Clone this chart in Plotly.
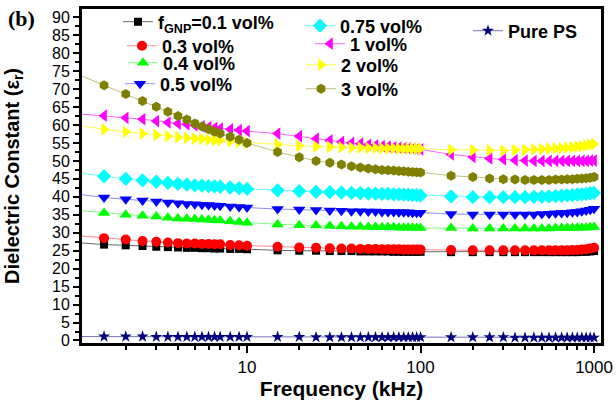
import plotly.graph_objects as go

# Frequencies (kHz)
freq = [1, 1.5, 2, 2.5, 3, 3.5, 4, 4.5, 5, 5.5, 6, 6.5, 7, 8, 9, 10,
        15, 20, 25, 30, 35, 40, 45, 50, 55, 60, 65, 70, 75, 80, 85, 90, 95, 100,
        150, 200, 250, 300, 350, 400, 450, 500, 550, 600, 650, 700, 750, 800, 850, 900, 950, 1000]

eps_01 = [27.3, 26.7, 26.5, 26.3, 26.1, 26.0, 25.9, 25.8, 25.8, 25.7, 25.7, 25.6, 25.6, 25.5, 25.5, 25.4,
          25.1, 25.0, 25.0, 24.9, 24.9, 24.9, 24.8, 24.8, 24.8, 24.8, 24.8, 24.7, 24.7, 24.7, 24.7, 24.7, 24.7, 24.7,
          24.6, 24.6, 24.6, 24.6, 24.6, 24.6, 24.6, 24.6, 24.6, 24.6, 24.6, 24.6, 24.6, 24.6, 24.7, 24.7, 24.8, 24.9]
eps_03 = [29.3, 28.5, 28.1, 27.7, 27.5, 27.3, 27.1, 27.0, 27.0, 26.9, 26.9, 26.8, 26.8, 26.6, 26.5, 26.4,
          26.1, 25.9, 25.8, 25.7, 25.6, 25.6, 25.5, 25.5, 25.5, 25.4, 25.4, 25.4, 25.4, 25.3, 25.3, 25.3, 25.3, 25.3,
          25.2, 25.1, 25.1, 25.1, 25.1, 25.1, 25.1, 25.1, 25.1, 25.1, 25.1, 25.1, 25.2, 25.2, 25.3, 25.4, 25.6, 25.8]
eps_04 = [36.3, 35.5, 35.0, 34.7, 34.5, 34.2, 34.0, 33.9, 33.8, 33.7, 33.6, 33.5, 33.4, 33.2, 33.0, 32.8,
          32.3, 32.1, 32.0, 31.9, 31.8, 31.7, 31.7, 31.6, 31.6, 31.5, 31.5, 31.5, 31.4, 31.4, 31.4, 31.4, 31.3, 31.3,
          31.3, 31.2, 31.2, 31.2, 31.2, 31.2, 31.2, 31.2, 31.2, 31.3, 31.3, 31.3, 31.3, 31.4, 31.4, 31.4, 31.5, 31.6]
eps_05 = [40.9, 39.8, 39.3, 39.0, 38.7, 38.4, 38.2, 38.0, 37.9, 37.8, 37.7, 37.6, 37.5, 37.3, 37.2, 37.0,
          36.6, 36.5, 36.3, 36.2, 36.1, 36.0, 36.0, 35.9, 35.9, 35.8, 35.8, 35.8, 35.7, 35.7, 35.7, 35.6, 35.6, 35.6,
          35.2, 35.1, 35.1, 35.1, 35.1, 35.1, 35.1, 35.2, 35.3, 35.4, 35.5, 35.6, 35.7, 35.8, 36.0, 36.2, 36.4, 36.7]
eps_075 = [46.8, 45.7, 45.0, 44.6, 44.2, 43.9, 43.6, 43.4, 43.2, 43.1, 43.0, 42.9, 42.8, 42.6, 42.4, 42.2,
           41.8, 41.6, 41.4, 41.3, 41.2, 41.1, 41.0, 40.9, 40.9, 40.8, 40.8, 40.7, 40.7, 40.6, 40.6, 40.5, 40.5, 40.4,
           40.1, 39.9, 39.9, 39.9, 39.9, 39.9, 40.0, 40.0, 40.1, 40.2, 40.3, 40.4, 40.5, 40.6, 40.7, 40.8, 41.0, 41.1]
eps_1 = [63.2, 62.6, 62.0, 61.6, 61.1, 60.7, 60.4, 60.2, 59.9, 59.6, 59.4, 59.2, 59.0, 58.8, 58.6, 58.3,
         57.6, 56.9, 56.2, 55.7, 55.3, 55.0, 54.8, 54.5, 54.3, 54.1, 54.0, 53.8, 53.7, 53.6, 53.5, 53.4, 53.3, 53.2,
         51.8, 51.1, 50.7, 50.4, 50.2, 50.1, 50.0, 50.0, 50.0, 50.0, 50.0, 50.0, 50.0, 50.0, 50.0, 50.0, 50.1, 50.1]
eps_2 = [60.1, 58.8, 58.1, 57.6, 57.2, 56.9, 56.6, 56.4, 56.2, 56.1, 55.9, 55.8, 55.7, 55.5, 55.3, 55.1,
         54.6, 54.2, 54.0, 53.9, 53.8, 53.7, 53.7, 53.6, 53.6, 53.5, 53.5, 53.5, 53.4, 53.4, 53.4, 53.4, 53.4, 53.4,
         53.1, 53.0, 52.9, 52.9, 53.0, 53.1, 53.2, 53.3, 53.4, 53.5, 53.6, 53.7, 53.8, 54.0, 54.1, 54.3, 54.5, 54.7]
eps_3 = [74.6, 71.1, 68.6, 66.7, 65.1, 63.7, 62.5, 61.5, 60.4, 59.6, 58.8, 58.1, 57.6, 56.7, 55.9, 55.0,
         52.5, 51.0, 50.0, 49.5, 49.0, 48.5, 48.2, 47.9, 47.7, 47.5, 47.4, 47.3, 47.2, 47.1, 47.0, 46.9, 46.85, 46.8,
         45.9, 45.5, 45.1, 44.9, 44.8, 44.7, 44.7, 44.7, 44.7, 44.8, 44.8, 44.9, 44.9, 45.0, 45.1, 45.2, 45.3, 45.5]
eps_ps = [1.1, 1.1, 1.1, 1.1, 1.0, 1.0, 1.0, 1.0, 1.0, 1.0, 1.0, 1.0, 1.0, 1.0, 1.0, 1.0,
          1.0, 1.0, 0.9, 0.9, 0.9, 0.9, 0.9, 0.9, 0.9, 0.9, 0.9, 0.9, 0.9, 0.9, 0.9, 0.9, 0.9, 0.9,
          0.9, 0.9, 0.9, 0.9, 0.8, 0.8, 0.8, 0.8, 0.8, 0.8, 0.8, 0.8, 0.8, 0.8, 0.8, 0.8, 0.8, 0.8]

labels = ["f<sub>GNP</sub>=0.1 vol%", "0.3 vol%", "0.4 vol%", "0.5 vol%",
          "0.75 vol%", "1 vol%", "2 vol%", "3 vol%", "Pure PS"]
x_ticks = [10, 100, 1000]
x_minor_ticks = [2, 3, 4, 5, 6, 7, 8, 9, 20, 30, 40, 50, 60, 70, 80, 90,
                 200, 300, 400, 500, 600, 700, 800, 900]

series = [eps_01, eps_03, eps_04, eps_05, eps_075, eps_1, eps_2, eps_3, eps_ps]
marker_colors = ["#000000", "#FF0000", "#00FF00", "#0000FF", "#00FFFF",
                 "#FF00FF", "#FFFF00", "#808000", "#000080"]
line_colors = ["rgba(0,0,0,0.6)", "rgba(255,0,0,0.45)", "rgba(0,255,0,0.5)", "rgba(0,0,255,0.45)",
               "rgba(0,255,255,0.6)", "rgba(255,0,255,0.6)", "rgba(255,255,0,0.7)",
               "rgba(128,128,0,0.5)", "rgba(0,0,128,0.55)"]
symbols = ["square", "circle", "triangle-up", "triangle-down", "diamond",
           "triangle-left", "triangle-right", "hexagon", "star"]
sizes = [8, 10, 11, 11, 11, 11, 11, 10, 9]

# legend anchor points (page px): marker centre
leg_pos = [(139, 22), (143, 46), (144, 63), (141, 84),
           (321, 26), (331, 44), (322, 65), (322, 89), (489, 31)]

W, H = 616, 413
ML, MR, MT, MB = 82, 15, 9, 70
PW, PH = W - ML - MR, H - MT - MB

fig = go.Figure()
layout_legends = {}
for i, (lab, ys) in enumerate(zip(labels, series)):
    key = "legend" if i == 0 else f"legend{i+1}"
    fig.add_trace(go.Scatter(
        x=freq, y=ys, name=lab, mode="lines+markers",
        line=dict(color=line_colors[i], width=1),
        marker=dict(symbol=symbols[i], size=sizes[i], color=marker_colors[i],
                    line=dict(width=0)),
        legend=key, showlegend=True, cliponaxis=True))
    mx, my = leg_pos[i]
    layout_legends[key] = dict(
        x=(mx - 21 - ML) / PW, y=(H - MB - my) / PH,
        xanchor="left", yanchor="middle", bgcolor="rgba(0,0,0,0)", borderwidth=0,
        font=dict(family="Liberation Sans", size=18, color="black", weight="bold"),
        itemclick=False, itemdoubleclick=False)

fig.update_layout(
    width=W, height=H, autosize=False, showlegend=True,
    margin=dict(l=ML, r=MR, t=MT, b=MB, autoexpand=False),
    paper_bgcolor="white", plot_bgcolor="white",
    font=dict(family="Liberation Sans", color="black"),
    **layout_legends,
)

fig.update_xaxes(
    type="log", range=[0.049, 3.04], automargin=False,
    tickmode="array", tickvals=x_ticks, ticktext=[str(v) for v in x_ticks],
    ticks="outside", ticklen=7, tickwidth=2, tickcolor="black",
    minor=dict(ticks="outside", ticklen=4, tickwidth=2, tickcolor="black",
               tickmode="array", tickvals=x_minor_ticks, showgrid=False),
    showline=True, linewidth=3, linecolor="black", mirror=True,
    showgrid=False, zeroline=False,
    tickfont=dict(size=17, family="Liberation Sans", color="black"),
    title=dict(text="Frequency (kHz)", font=dict(size=21, family="Liberation Sans", color="black", weight="bold"), standoff=0),
)
fig.update_yaxes(
    range=[-0.7, 92.3], automargin=False, tickmode="linear", tick0=0, dtick=5,
    ticks="outside", ticklen=6, tickwidth=2, tickcolor="black",
    minor=dict(ticks="outside", ticklen=4, tickwidth=2, tickcolor="black", dtick=2.5, showgrid=False),
    showline=True, linewidth=3, linecolor="black", mirror=True,
    showgrid=False, zeroline=False,
    tickfont=dict(size=16, family="Liberation Sans", color="black"),
    title=dict(text="Dielectric Constant (ε<sub>r</sub>)", font=dict(size=20, family="Liberation Sans", color="black", weight="bold"), standoff=28),
)

fig.add_annotation(text="(b)", xref="paper", yref="paper",
                   x=(21 - ML) / PW, y=(H - MB - 18) / PH,
                   xanchor="center", yanchor="middle", showarrow=False,
                   font=dict(family="Liberation Serif", size=22, color="black", weight="bold"))

fig.write_html("out.html", config={"displayModeBar": False},
               post_script="document.body.style.margin='0';")
